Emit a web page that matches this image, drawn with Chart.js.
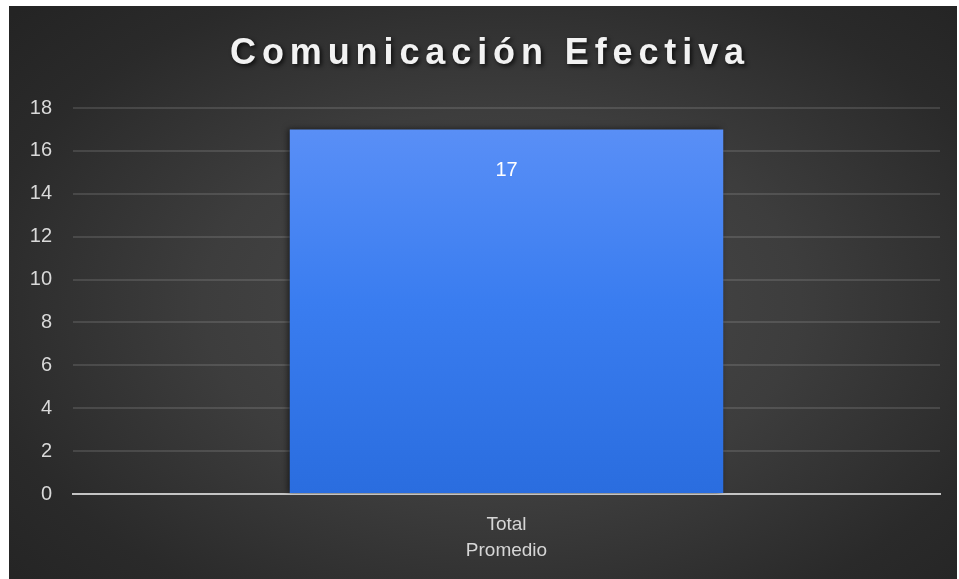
<!DOCTYPE html>
<html>
<head>
<meta charset="utf-8">
<script src="https://cdn.jsdelivr.net/npm/chart.js@4.4.1/dist/chart.umd.min.js"></script>
<style>
  html, body { margin: 0; padding: 0; background: #ffffff; }
  #frame {
    position: absolute; left: 9px; top: 6px; width: 948px; height: 573px;
    background: radial-gradient(ellipse 70% 75% at 52% 52%, #4b4b4b 0%, #3d3d3d 45%, #2a2a2a 80%, #242424 100%);
  }
  canvas { display: block; }
</style>
</head>
<body>
<div id="frame"><canvas id="c" width="948" height="573"></canvas></div>
<script>
const chartTitle = 'Comunicación Efectiva';
const categories = [['Total', 'Promedio']];
const seriesValues = [17];
const yTicks = [0, 2, 4, 6, 8, 10, 12, 14, 16, 18];

const FONT = '"Liberation Sans", Arial, sans-serif';

// Title with spaced letters and a soft drop shadow
const titlePlugin = {
  id: 'spacedTitle',
  afterDraw(chart) {
    const ctx = chart.ctx;
    ctx.save();
    ctx.font = 'bold 36px ' + FONT;
    ctx.letterSpacing = '5.9px';
    ctx.fillStyle = '#f2f2f2';
    ctx.textAlign = 'center';
    ctx.textBaseline = 'middle';
    ctx.shadowColor = 'rgba(0,0,0,0.75)';
    ctx.shadowBlur = 4;
    ctx.shadowOffsetX = 2;
    ctx.shadowOffsetY = 2;
    ctx.fillText(chartTitle, chart.width / 2 + 7, 48);
    ctx.restore();
  }
};

// Shadow behind the bar
const barShadow = {
  id: 'barShadow',
  beforeDatasetDraw(chart) {
    const ctx = chart.ctx;
    ctx.save();
    ctx.shadowColor = 'rgba(0,0,0,0.55)';
    ctx.shadowBlur = 6;
    ctx.shadowOffsetX = -2;
    ctx.shadowOffsetY = 0;
  },
  afterDatasetDraw(chart) {
    chart.ctx.restore();
  }
};

// Value label inside the top of each bar
const valueLabels = {
  id: 'valueLabels',
  afterDatasetsDraw(chart) {
    const ctx = chart.ctx;
    const meta = chart.getDatasetMeta(0);
    const data = chart.data.datasets[0].data;
    ctx.save();
    ctx.font = '20px ' + FONT;
    ctx.fillStyle = '#ffffff';
    ctx.textAlign = 'center';
    ctx.textBaseline = 'middle';
    meta.data.forEach((bar, i) => {
      ctx.fillText(String(data[i]), bar.x, bar.y + 41);
    });
    ctx.restore();
  }
};

new Chart(document.getElementById('c'), {
  type: 'bar',
  data: {
    labels: categories,
    datasets: [{
      data: seriesValues,
      backgroundColor(context) {
        const area = context.chart.chartArea;
        if (!area) return '#3f80ef';
        const g = context.chart.ctx.createLinearGradient(0, area.top, 0, area.bottom);
        g.addColorStop(0, '#5d91f7');
        g.addColorStop(0.5, '#3a7df0');
        g.addColorStop(1, '#2a6ddf');
        return g;
      },
      borderWidth: 0,
      categoryPercentage: 0.5,
      barPercentage: 1.0
    }]
  },
  plugins: [barShadow, valueLabels, titlePlugin],
  options: {
    responsive: false,
    animation: false,
    devicePixelRatio: 1,
    layout: { padding: { top: 102, right: 17, bottom: 0, left: 0 } },
    plugins: {
      legend: { display: false },
      title: { display: false },
      tooltip: { enabled: false }
    },
    scales: {
      x: {
        z: 1,
        grid: { display: false },
        border: { display: true, color: '#c4c4c4', width: 2 },
        ticks: {
          color: '#d6d6d6',
          font: { family: FONT, size: 19, lineHeight: 1.37 },
          padding: 10
        },
        afterFit(scale) { scale.height = 85; }
      },
      y: {
        min: 0,
        max: 18,
        afterBuildTicks(scale) { scale.ticks = yTicks.map(v => ({ value: v })); },
        grid: { color: 'rgba(255,255,255,0.12)', lineWidth: 2, drawTicks: false },
        border: { display: false },
        ticks: {
          color: '#d9d9d9',
          font: { family: FONT, size: 20 },
          padding: 21
        },
        afterFit(scale) { scale.width = 64; }
      }
    }
  }
});
</script>
</body>
</html>
